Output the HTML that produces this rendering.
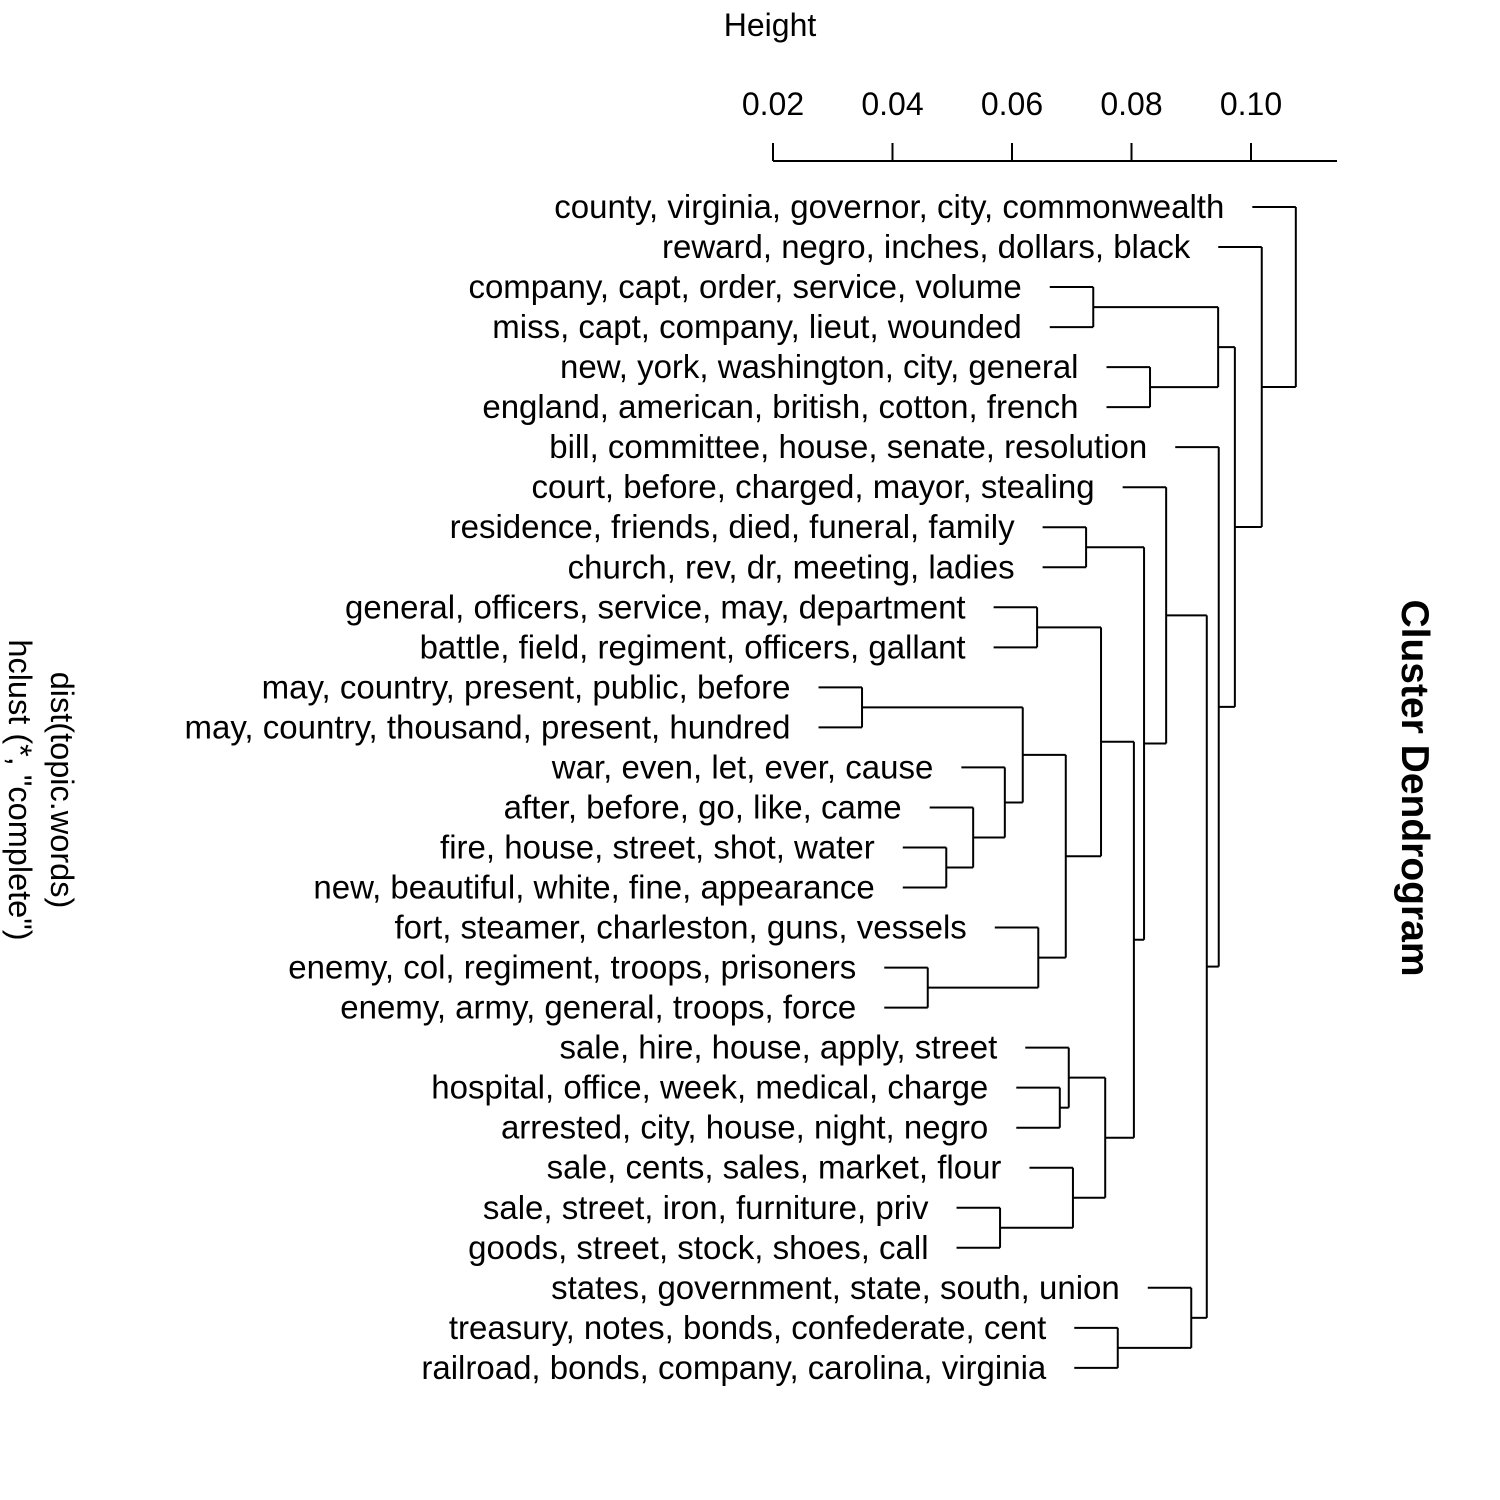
<!DOCTYPE html>
<html><head><meta charset="utf-8"><style>body{margin:0;background:#fff}svg{display:block}text{font-family:"Liberation Sans",Arial,sans-serif;fill:#000}</style></head>
<body>
<svg id="chart" width="1500" height="1500" viewBox="0 0 1500 1500" xmlns="http://www.w3.org/2000/svg">
<text x="770" y="36" font-size="32" text-anchor="middle">Height</text>
<text transform="translate(1402,788) rotate(90)" font-size="39" font-weight="bold" text-anchor="middle">Cluster Dendrogram</text>
<text transform="translate(51,790) rotate(90)" font-size="32.5" text-anchor="middle">dist(topic.words)</text>
<text transform="translate(9,790) rotate(90)" font-size="32.5" text-anchor="middle">hclust (*, "complete")</text>
<g id="axis"></g>
<g id="tree"></g>
</svg>
<script>
const leafLabels=["county, virginia, governor, city, commonwealth","reward, negro, inches, dollars, black","company, capt, order, service, volume","miss, capt, company, lieut, wounded","new, york, washington, city, general","england, american, british, cotton, french","bill, committee, house, senate, resolution","court, before, charged, mayor, stealing","residence, friends, died, funeral, family","church, rev, dr, meeting, ladies","general, officers, service, may, department","battle, field, regiment, officers, gallant","may, country, present, public, before","may, country, thousand, present, hundred","war, even, let, ever, cause","after, before, go, like, came","fire, house, street, shot, water","new, beautiful, white, fine, appearance","fort, steamer, charleston, guns, vessels","enemy, col, regiment, troops, prisoners","enemy, army, general, troops, force","sale, hire, house, apply, street","hospital, office, week, medical, charge","arrested, city, house, night, negro","sale, cents, sales, market, flour","sale, street, iron, furniture, priv","goods, street, stock, shoes, call","states, government, state, south, union","treasury, notes, bonds, confederate, cent","railroad, bonds, company, carolina, virginia"];
const mergeLeft=[-3,-5,1,-9,-11,-13,-17,-16,-15,6,-20,-19,10,5,-23,-22,-26,-25,16,14,4,-8,-29,-28,22,-7,3,-2,-1];
const mergeRight=[-4,-6,2,-10,-12,-14,-18,7,8,9,-21,11,12,13,-24,15,-27,17,18,19,20,21,-30,23,24,25,26,27,28];
const mergeHeights=[0.0736,0.0831,0.0945,0.0724,0.0642,0.0349,0.0490,0.0535,0.0588,0.0618,0.0459,0.0644,0.0690,0.0749,0.0680,0.0695,0.0580,0.0702,0.0756,0.0804,0.0821,0.0858,0.0777,0.0900,0.0926,0.0946,0.0973,0.1018,0.1075];
const tickValues=[0.02,0.04,0.06,0.08,0.10];
const tickLabels=["0.02","0.04","0.06","0.08","0.10"];
const hang=0.00728;
const NS="http://www.w3.org/2000/svg";
const xOf=h=>773+(h-0.02)/0.02*119.5;
const yOf=i=>207+i*40.03;
function mk(tag,attrs,parent){const e=document.createElementNS(NS,tag);for(const k in attrs)e.setAttribute(k,attrs[k]);parent.appendChild(e);return e;}
const axis=document.getElementById('axis'),tree=document.getElementById('tree');
const ln={stroke:"#000","stroke-width":2,fill:"none"};
let al=mk('line',Object.assign({x1:xOf(0.02),x2:1337,y1:161,y2:161},ln),axis);


tickValues.forEach((v,i)=>{
 const t=mk('line',Object.assign({x1:xOf(v),x2:xOf(v),y1:143,y2:161},ln),axis);
 
 
 const tx=mk('text',{x:xOf(v),y:115,"font-size":32,"text-anchor":"middle"},axis);
 tx.textContent=tickLabels[i];
 
 
});
const pos=[];
function nodeY(n){return n<0?yOf(-n-1):pos[n-1];}
function drawLeaf(idx,h){
 const y=yOf(idx),x0=xOf(h-hang),x1=xOf(h);
 const l=mk('line',Object.assign({x1:x0,x2:x1,y1:y,y2:y},ln),tree);
 
 
 const t=mk('text',{x:x0-28,y:y+11,"font-size":33,"text-anchor":"end"},tree);
 t.textContent=leafLabels[idx];
 
 
}
function childX(n){return xOf(mergeHeights[n-1]);}
for(let m=0;m<mergeHeights.length;m++){
 const h=mergeHeights[m],x=xOf(h);
 const a=mergeLeft[m],b=mergeRight[m];
 const ya=nodeY(a),yb=nodeY(b);
 [a,b].forEach(c=>{
  if(c<0)drawLeaf(-c-1,h);
  else{const yc=nodeY(c);const l=mk('line',Object.assign({x1:childX(c),x2:x,y1:yc,y2:yc},ln),tree);
   
   }
 });
 const v=mk('line',Object.assign({x1:x,x2:x,y1:ya,y2:yb},ln),tree);
 
 
 pos.push((ya+yb)/2);
}
</script>
</body></html>
